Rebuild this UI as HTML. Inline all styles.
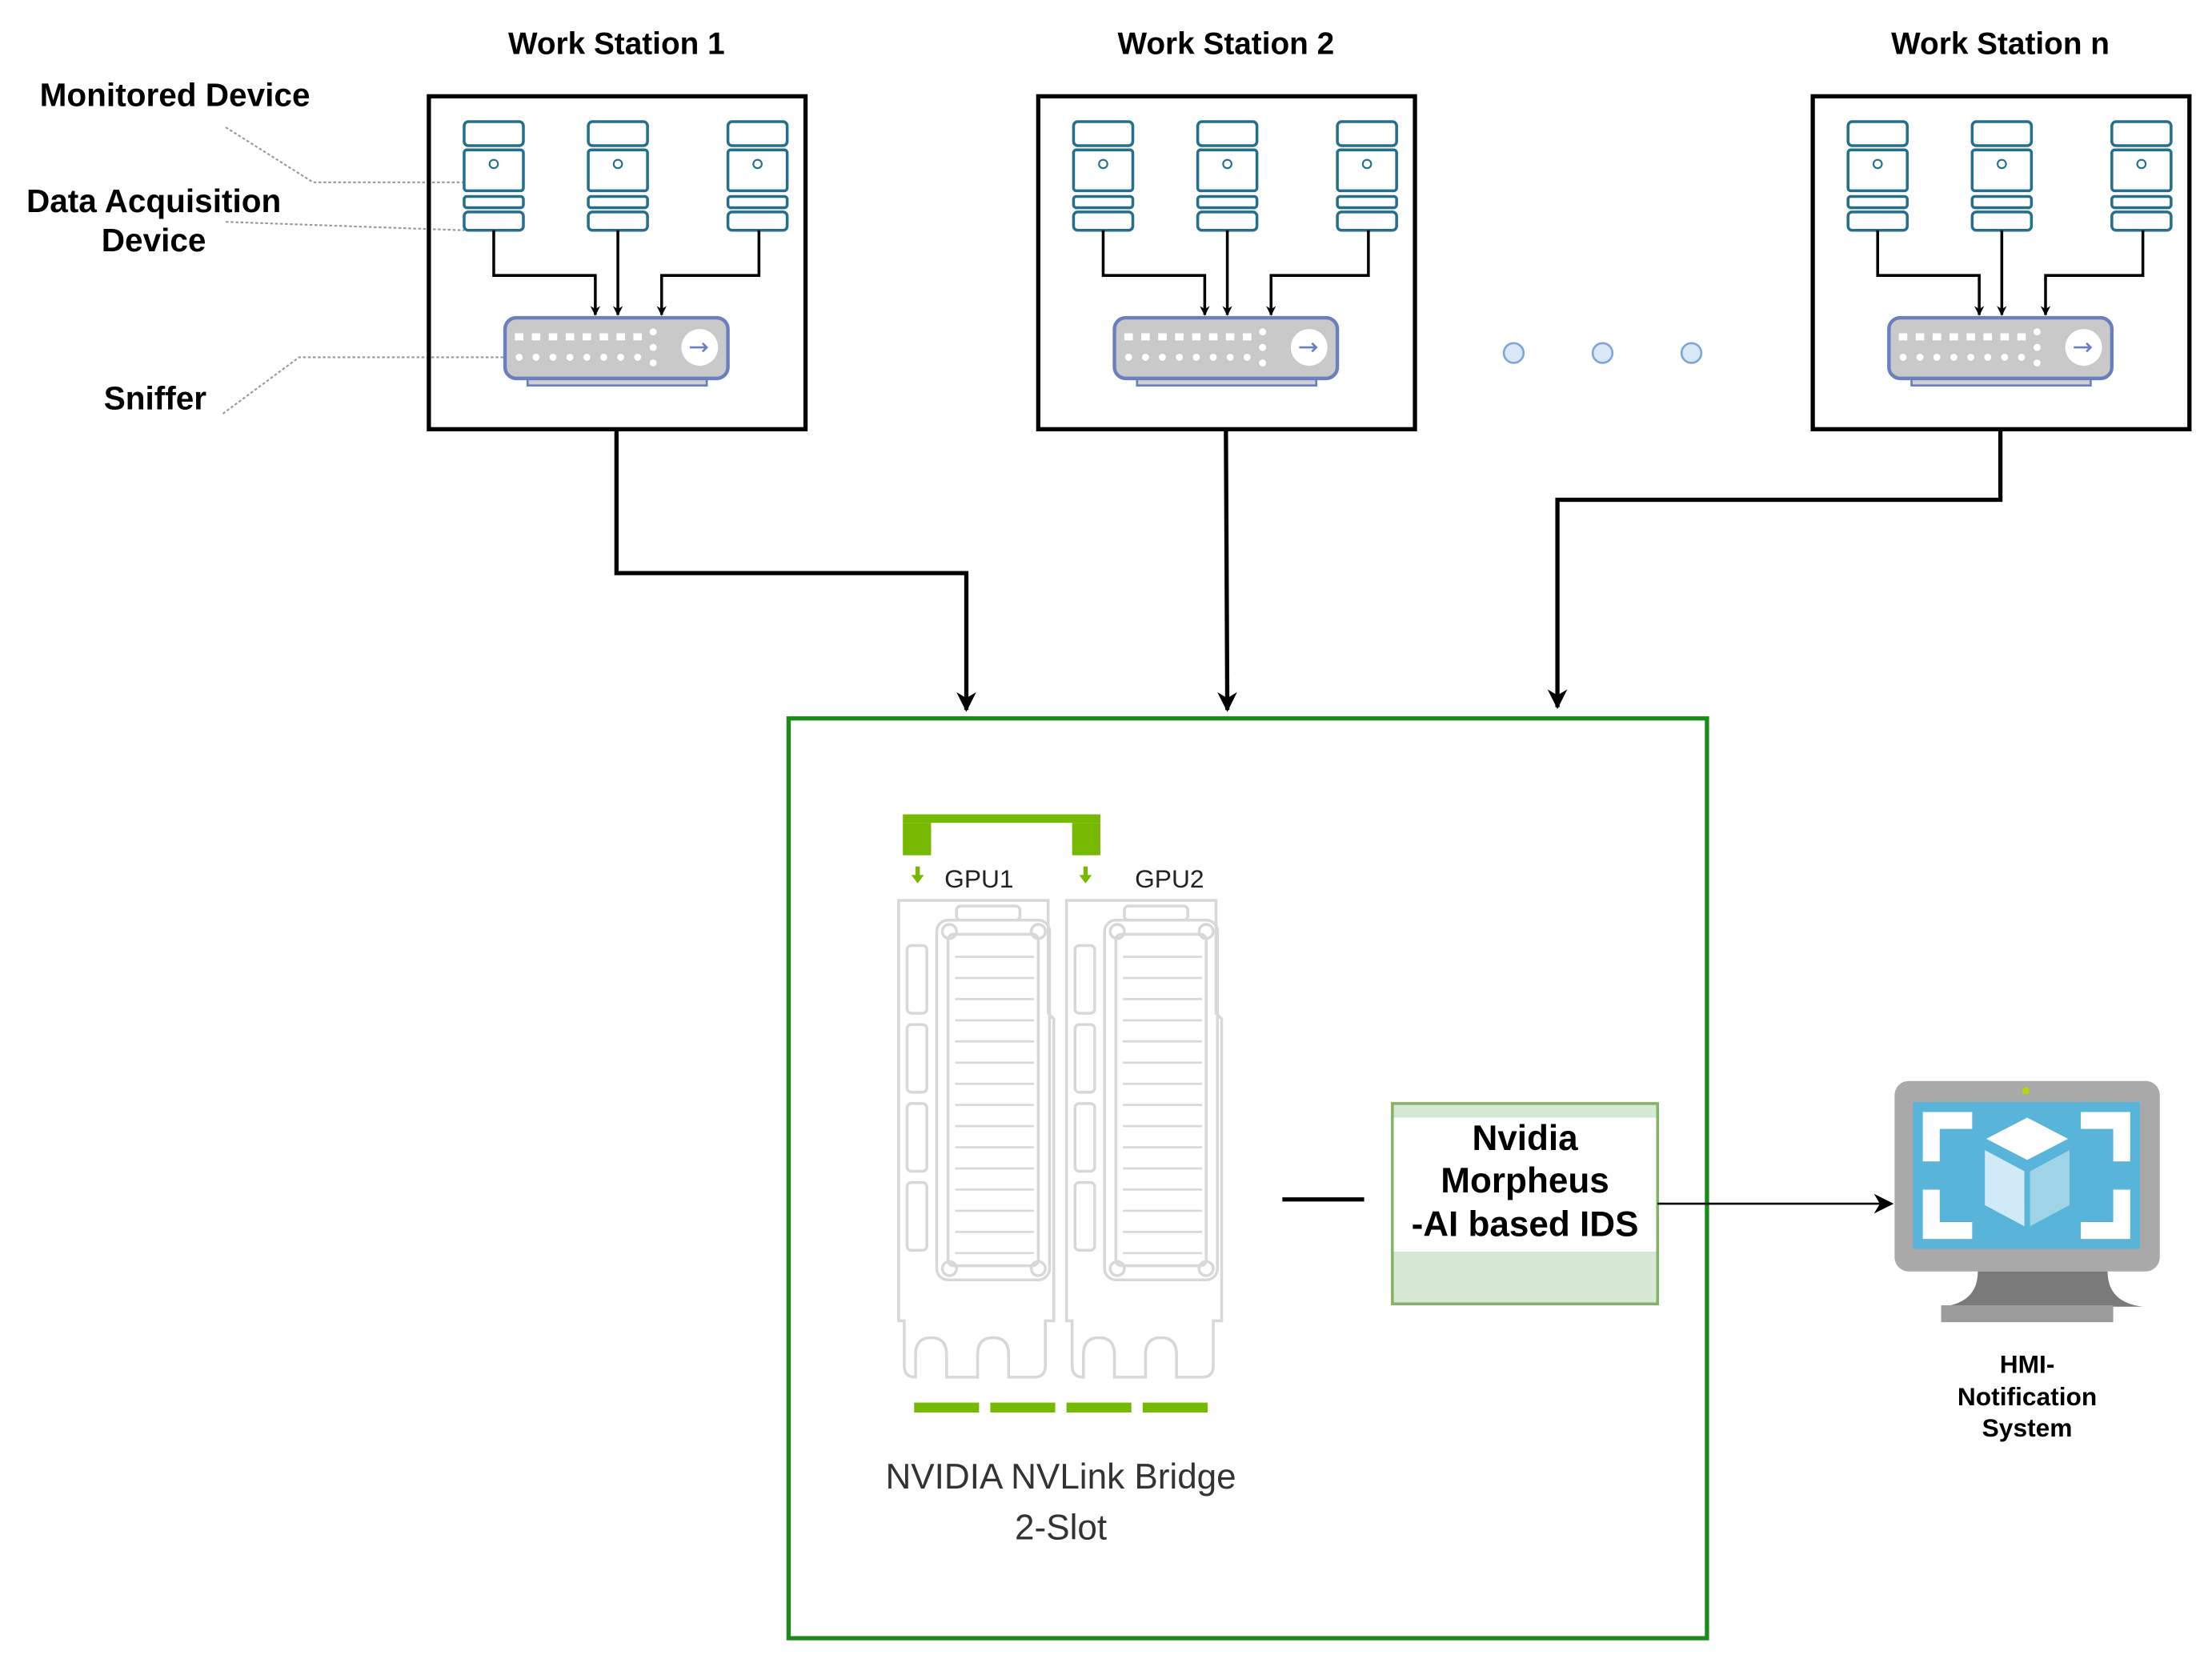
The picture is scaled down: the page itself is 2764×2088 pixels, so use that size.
<!DOCTYPE html>
<html><head><meta charset="utf-8"><style>html,body{margin:0;padding:0;background:#fff}svg{display:block}</style></head><body>
<svg width="2764" height="2088" viewBox="0 0 1568 1184" xmlns="http://www.w3.org/2000/svg" font-family="Liberation Sans, Arial, sans-serif">
<defs>
<marker id="ah" viewBox="0 0 10 10" refX="9" refY="5" markerWidth="7" markerHeight="7" orient="auto-start-reverse" markerUnits="userSpaceOnUse"><path d="M0,0 L10,5 L0,10 L3,5 z" fill="#000"/></marker>
<marker id="ah2" viewBox="0 0 10 10" refX="9" refY="5" markerWidth="14" markerHeight="14" orient="auto" markerUnits="userSpaceOnUse"><path d="M0,0 L10,5 L0,10 L3,5 z" fill="#000"/></marker>
<g id="srv" fill="#fff" stroke="#236f8c" stroke-width="2">
<rect x="0" y="0" width="42" height="17" rx="3"/>
<rect x="0" y="20" width="42" height="29" rx="2"/>
<rect x="0" y="53" width="42" height="8" rx="2"/>
<rect x="0" y="64" width="42" height="13" rx="3"/>
<circle cx="21" cy="30" r="3" stroke-width="1.2"/>
</g>
<g id="snf">
<rect x="16" y="42" width="127" height="6" fill="#d0d0d0" stroke="#6a7fbf" stroke-width="1.5"/>
<rect x="0" y="0" width="158" height="43" rx="8" fill="#c9c9c9" stroke="#6a7fbf" stroke-width="2.5"/>
<g fill="#fff"><rect x="7" y="11" width="6" height="5"/><rect x="19" y="11" width="6" height="5"/><rect x="31" y="11" width="6" height="5"/><rect x="43" y="11" width="6" height="5"/><rect x="55" y="11" width="6" height="5"/><rect x="67" y="11" width="6" height="5"/><rect x="79" y="11" width="6" height="5"/><rect x="91" y="11" width="6" height="5"/>
<circle cx="10" cy="28" r="2.5"/><circle cx="22" cy="28" r="2.5"/><circle cx="34" cy="28" r="2.5"/><circle cx="46" cy="28" r="2.5"/><circle cx="58" cy="28" r="2.5"/><circle cx="70" cy="28" r="2.5"/><circle cx="82" cy="28" r="2.5"/><circle cx="94" cy="28" r="2.5"/>
<circle cx="105" cy="10" r="2.5"/><circle cx="105" cy="21" r="2.5"/><circle cx="105" cy="32" r="2.5"/>
<circle cx="138" cy="21" r="13"/></g>
<path d="M131,21 h12 m-3,-3 l3,3 l-3,3" stroke="#6a7fbf" stroke-width="1.5" fill="none"/>
</g>
<g id="ws">
<rect x="304" y="68" width="267" height="236" fill="none" stroke="#000" stroke-width="3"/>
<use href="#srv" x="329" y="86"/><use href="#srv" x="417" y="86"/><use href="#srv" x="516" y="86"/>
<g fill="none" stroke="#000" stroke-width="2">
<path d="M350,163 V195 H422 V223" marker-end="url(#ah)"/>
<path d="M438,163 V223" marker-end="url(#ah)"/>
<path d="M538,163 V195 H469 V223" marker-end="url(#ah)"/>
</g>
<use href="#snf" x="358" y="225"/>
</g>
<g id="gpu" fill="none" stroke="#d8d8d8" stroke-width="2">
<path d="M0,0 H106 V80 L110,84 V298 H104 V330 Q104,338 96,338 H78 V322 Q78,310 67,310 Q56,310 56,322 V338 H34 V322 Q34,310 23,310 Q12,310 12,322 V338 Q4,338 4,330 V298 H0 Z"/>
<rect x="27" y="14" width="80" height="255" rx="8"/>
<rect x="35" y="24" width="64" height="235" rx="4"/>
<rect x="41" y="4" width="45" height="10" rx="3"/>
<rect x="6" y="32" width="14" height="48" rx="3"/><rect x="6" y="88" width="14" height="48" rx="3"/><rect x="6" y="144" width="14" height="48" rx="3"/><rect x="6" y="200" width="14" height="48" rx="3"/>
<path d="M40,40 H96 M40,55 H96 M40,70 H96 M40,85 H96 M40,100 H96 M40,115 H96 M40,130 H96 M40,145 H96 M40,160 H96 M40,175 H96 M40,190 H96 M40,205 H96 M40,220 H96 M40,235 H96 M40,250 H96" stroke-width="1.5"/>
<circle cx="36" cy="22" r="5"/><circle cx="99" cy="22" r="5"/><circle cx="36" cy="261" r="5"/><circle cx="99" cy="261" r="5"/>
</g>
</defs>

<g font-weight="bold" font-size="22" fill="#000" text-anchor="middle">
<text x="437" y="38">Work Station 1</text>
<text x="869" y="38">Work Station 2</text>
<text x="1418" y="38">Work Station n</text>
</g>
<g font-weight="bold" font-size="23" fill="#000" text-anchor="middle">
<text x="124" y="75">Monitored Device</text>
<text x="109" y="150">Data Acquisition</text>
<text x="109" y="178">Device</text>
<text x="110" y="290">Sniffer</text>
</g>
<g fill="none" stroke="#999" stroke-width="1.2" stroke-dasharray="2,1.5">
<path d="M160,90 L222,129 H329"/>
<path d="M160,157 L329,163"/>
<path d="M158,293 L212,253 H358"/>
</g>

<use href="#ws"/>
<use href="#ws" x="432"/>
<use href="#ws" x="981"/>

<g fill="#dbe8f7" stroke="#7fa6d9" stroke-width="1.5">
<circle cx="1073" cy="250" r="7"/><circle cx="1136" cy="250" r="7"/><circle cx="1199" cy="250" r="7"/>
</g>

<g fill="none" stroke="#000" stroke-width="3">
<path d="M437,304 V406 H685 V503" marker-end="url(#ah2)"/>
<path d="M869,304 L870,503" marker-end="url(#ah2)"/>
<path d="M1418,304 V354 H1104 V501" marker-end="url(#ah2)"/>
</g>

<rect x="559" y="509" width="651" height="652" fill="none" stroke="#1a8a1a" stroke-width="3"/>

<use href="#gpu" x="637" y="638"/>
<use href="#gpu" x="756" y="638"/>
<g fill="#76b900">
<rect x="640" y="577" width="140" height="6"/>
<rect x="640" y="583" width="20" height="23"/><rect x="760" y="583" width="20" height="23"/>
<rect x="648" y="994" width="46" height="7"/><rect x="702" y="994" width="46" height="7"/><rect x="756" y="994" width="46" height="7"/><rect x="810" y="994" width="46" height="7"/>
<path d="M649,614 h3 v6 h3 l-4.5,6 l-4.5,-6 h3 z"/><path d="M768,614 h3 v6 h3 l-4.5,6 l-4.5,-6 h3 z"/>
</g>
<g font-size="18" fill="#222" text-anchor="middle">
<text x="694" y="629">GPU1</text><text x="829" y="629">GPU2</text>
</g>
<g font-size="25" fill="#333" text-anchor="middle">
<text x="752" y="1055">NVIDIA NVLink Bridge</text>
<text x="752" y="1091">2-Slot</text>
</g>

<line x1="909" y1="850" x2="967" y2="850" stroke="#000" stroke-width="3"/>
<rect x="987" y="782" width="188" height="142" fill="#d5e8d4" stroke="#82b366" stroke-width="2"/>
<rect x="988" y="792" width="186" height="95" fill="#fff"/>
<g font-size="25" font-weight="bold" text-anchor="middle" fill="#000">
<text x="1081" y="815">Nvidia</text><text x="1081" y="845">Morpheus</text><text x="1081" y="876">-AI based IDS</text>
</g>
<line x1="1175" y1="853" x2="1341" y2="853" stroke="#000" stroke-width="1.5" marker-end="url(#ah2)"/>

<rect x="1343" y="766" width="188" height="135" rx="10" fill="#a9a9a9"/>
<path d="M1455,901 h39 q0,22 25,25 h-142 q25,-3 25,-25 z" fill="#7a7a7a"/>
<rect x="1376" y="925" width="122" height="12" fill="#9b9b9b"/>
<circle cx="1436" cy="773" r="2.5" fill="#b8d800"/>
<rect x="1356" y="781" width="161" height="104" fill="#59b4d9"/>
<g fill="#fff">
<path d="M1363,788 h35 v12 h-23 v23 h-12 z"/>
<path d="M1510,788 h-35 v12 h23 v23 h12 z"/>
<path d="M1363,878 h35 v-12 h-23 v-23 h-12 z"/>
<path d="M1510,878 h-35 v-12 h23 v-23 h12 z"/>
<path d="M1437,792 l29,15 l-29,15 l-29,-15 z"/>
</g>
<path d="M1407,815 l28,15 v39 l-28,-15 z" fill="#d0ebf6"/>
<path d="M1467,815 l-28,15 v39 l28,-15 z" fill="#9fd3e8"/>
<g font-size="18" font-weight="bold" text-anchor="middle" fill="#000">
<text x="1437" y="973">HMI-</text><text x="1437" y="996">Notification</text><text x="1437" y="1018">System</text>
</g>
</svg>
</body></html>
